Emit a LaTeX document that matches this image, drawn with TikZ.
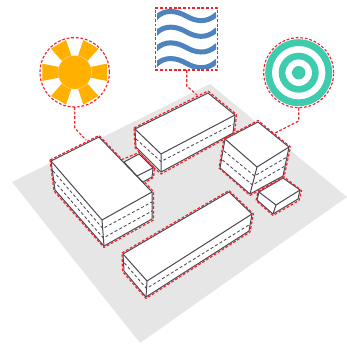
\documentclass[tikz,border=0pt]{standalone}
\definecolor{plane}{HTML}{E6E6E6}
\definecolor{edge}{HTML}{4D4853}
\definecolor{sunc}{HTML}{FFB000}
\definecolor{wavec}{HTML}{4F83BF}
\definecolor{tealc}{HTML}{3FCBAE}
\definecolor{redc}{HTML}{F5202A}
\tikzset{
  block/.style={draw=edge,fill=white,line width=1pt,line join=round},
  solidedge/.style={draw=edge,line width=1pt},
  level/.style={draw=edge,line width=0.85pt,dash pattern=on 3pt off 2.2pt},
  redline/.style={draw=redc,line width=1.15pt,dash pattern=on 2.8pt off 1.8pt,line join=round},
  icon/.style={inner sep=0pt,outer sep=0pt},
  wavestroke/.style={draw=wavec,line width=5pt}
}
\begin{document}
\begin{tikzpicture}[x=1pt,y=-1pt]
\useasboundingbox (0,0) rectangle (347,343);
% ground plane
\fill[plane] (12,182) -- (210,84) -- (347,197) -- (140,343) -- cycle;

% small box behind A
\draw[block] (124,162) -- (139,154) -- (153,168) -- (152,177) -- (143,182) -- (137,176) -- cycle;
\draw[solidedge] (137,176) -- (153,168);
% building A
\draw[block] (51,161) -- (99,137) -- (152,192) -- (152,219) -- (104,246) -- (55,190) -- cycle;
\draw[solidedge] (51,161) -- (102,220) -- (152,192) (102,220) -- (104,246);
\draw[level] (53,171) -- (102.8,228.5) -- (152,202);
\draw[level] (54,181) -- (103.3,238) -- (152,211);

% building B
\draw[block] (135,129) -- (208,93) -- (235,115) -- (233,133) -- (161,172) -- (136,147) -- cycle;
\draw[solidedge] (135,129) -- (161,154) -- (235,115) (161,154) -- (161,172);
\draw[level] (136,139) -- (161,161.5) -- (233.5,124);

% building C
\draw[block] (225,139) -- (258,122) -- (289,147) -- (283,176) -- (250,194) -- (220,168) -- cycle;
\draw[solidedge] (225,139) -- (257,167) -- (289,147) (257,167) -- (250,194);
\draw[level] (224,151) -- (254.5,176) -- (287,157);
\draw[level] (222.5,160) -- (252.5,185) -- (285,166);

% building D
\draw[block] (259,192) -- (283,178) -- (300,190) -- (298,199) -- (273,214) -- (257,200) -- cycle;
\draw[solidedge] (259,192) -- (276,205) -- (300,190) (276,205) -- (273,214);

% building E
\draw[block] (123,254) -- (229,192) -- (252,214) -- (249,231) -- (146,297) -- (124,271) -- cycle;
\draw[solidedge] (123,254) -- (147,281) -- (252,214) (147,281) -- (146,297);
\draw[level] (124.5,263) -- (146.5,288.5) -- (250.5,224);

% red outlines
\draw[redline] (50,160) -- (99,135.5) -- (122,159.5) -- (139,152.5) -- (154.5,168) -- (153.5,177.5) -- (145,182.5) -- (153.5,191.5) -- (153.5,220) -- (104,247.5) -- (54,191) -- cycle;
\draw[redline] (134,128) -- (208,91) -- (236.5,114.5) -- (234.5,133.5) -- (161,174) -- (152,166) -- (135,147.5) -- cycle;
\draw[redline] (224,138.5) -- (258,120.5) -- (290.5,147) -- (284,177) -- (250,195.5) -- (219,168) -- cycle;
\draw[redline] (258,191.5) -- (284,177) -- (301.5,190.5) -- (299,200.5) -- (273,215.5) -- (256,200.5) -- cycle;
\draw[redline] (122,253) -- (229,190.5) -- (253.5,214) -- (250,232) -- (146,298.5) -- (122.5,271.5) -- cycle;

% sun
\node[circle,minimum size=69.4pt,icon,redline] (sun) at (74.7,72.3) {};
\foreach \a in {0,60,...,300}{
  \fill[sunc] ([shift={(\a-19:16)}]sun.center) -- ([shift={(\a-15:33.5)}]sun.center)
     -- ([shift={(\a+15:33.5)}]sun.center) -- ([shift={(\a+19:16)}]sun.center) -- cycle;
}
\filldraw[fill=sunc,draw=white,draw opacity=0.45,line width=0.5pt] (sun.center) circle[radius=16.9];

% waves
\node[rectangle,minimum width=62.4pt,minimum height=62pt,icon,redline] (waves) at (186.5,39) {};
\begin{scope}
  \clip (157,9.5) rectangle (216,68.5);
  \foreach \d in {0,15.7,31.4,47.1}{
    \draw[wavestroke] (155,18.5+\d) .. controls (165,8+\d) and (177,11+\d) .. (186,16+\d)
       .. controls (195,21+\d) and (206,24+\d) .. (217,14+\d);
  }
\end{scope}

% target
\node[circle,minimum size=70pt,icon,redline] (target) at (298.7,72.7) {};
\fill[tealc,even odd rule] (target.center) circle[radius=33.5] circle[radius=26.7];
\fill[tealc,even odd rule] (target.center) circle[radius=20] circle[radius=13.3];
\fill[tealc] (target.center) circle[radius=6.7];

% leaders
\coordinate (sunend) at (86,140);
\coordinate (waveend) at (197,95);
\coordinate (targetend) at (273,134);
\draw[redline] (sun.south) -- (74.7,128) -- (sunend);
\draw[redline] (waves.south -| 186.7,0) -- (186.7,86) -- (waveend);
\draw[redline] (target.south) -- (298.7,121) -- (targetend);
\end{tikzpicture}
\end{document}
